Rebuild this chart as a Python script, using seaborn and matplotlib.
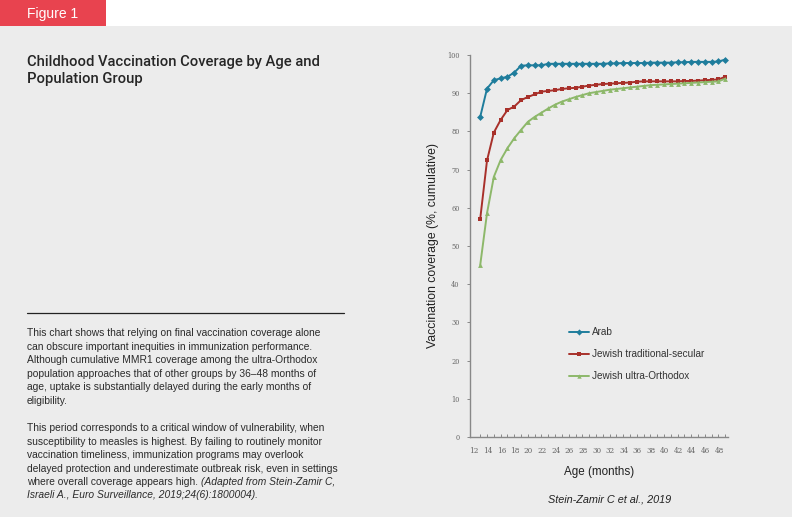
import pandas as pd
import matplotlib.pyplot as plt
import seaborn as sns
from matplotlib.lines import Line2D
from matplotlib.patches import Rectangle

# 데이터
months = list(range(12, 49))
groups = ['Arab', 'Jewish traditional-secular', 'Jewish ultra-Orthodox']

arab = [83.8, 91.2, 93.4, 93.9, 94.3, 95.4, 97.2, 97.3, 97.3, 97.3,
        97.7, 97.7, 97.7, 97.7, 97.7, 97.7, 97.7, 97.7, 97.7, 97.8,
        97.8, 97.9, 97.9, 97.9, 97.9, 98.0, 98.0, 98.0, 98.0, 98.1,
        98.1, 98.2, 98.2, 98.2, 98.2, 98.3, 98.8]
secular = [57.1, 72.4, 79.7, 83.0, 85.6, 86.5, 88.2, 89.0, 89.7, 90.4,
           90.6, 90.8, 91.1, 91.3, 91.4, 91.7, 92.0, 92.2, 92.4, 92.5,
           92.6, 92.7, 92.8, 93.0, 93.1, 93.1, 93.1, 93.1, 93.1, 93.1,
           93.2, 93.2, 93.3, 93.4, 93.5, 93.6, 94.3]
orthodox = [45.0, 58.6, 68.1, 72.5, 75.6, 78.2, 80.4, 82.5, 83.8, 84.9,
            86.0, 87.0, 87.8, 88.4, 89.0, 89.5, 90.0, 90.3, 90.6, 90.9,
            91.1, 91.3, 91.5, 91.7, 91.9, 92.1, 92.2, 92.3, 92.4, 92.5,
            92.6, 92.7, 92.8, 92.9, 93.0, 93.1, 93.8]

yticks = list(range(0, 101, 10))
xticks = list(range(12, 49, 2))

df = pd.DataFrame({
    'month': months * 3,
    'coverage': arab + secular + orthodox,
    'group': [groups[0]] * len(months) + [groups[1]] * len(months) + [groups[2]] * len(months),
})

palette = {groups[0]: '#1f7d9c', groups[1]: '#a8302a', groups[2]: '#8db86a'}
markers = {groups[0]: 'D', groups[1]: 's', groups[2]: '^'}

sns.set_style('white')
plt.rcParams['font.family'] = ['Liberation Sans', 'DejaVu Sans']

bg = '#ececec'
txt = '#2b2b2b'
fig = plt.figure(figsize=(7.92, 5.17), dpi=100)
fig.patch.set_facecolor('white')

# 회색 배경 + 상단 배지
fig.add_artist(Rectangle((0, 0), 1, 1 - 26 / 517, transform=fig.transFigure,
                         facecolor=bg, edgecolor='none', zorder=-10))
fig.add_artist(Rectangle((0, 1 - 26 / 517), 106 / 792, 26 / 517, transform=fig.transFigure,
                         facecolor='#e8434f', edgecolor='none', zorder=-9))
fig.text(27 / 792, 1 - 14 / 517, 'Figure 1', color='white', fontsize=10, va='center', ha='left')

# 제목
fig.text(27 / 792, 1 - 55 / 517, 'Childhood Vaccination Coverage by Age and\nPopulation Group',
         fontsize=10.6, color='#262626', va='top', ha='left', linespacing=1.3,
         family=['Roboto', 'Liberation Sans'], weight='medium')

# 구분선
fig.add_artist(Line2D([27 / 792, 344 / 792], [1 - 313 / 517] * 2, transform=fig.transFigure,
                      color='#222222', lw=0.9))

body_size = 7.4
body_ls = 1.45
para1 = ('This chart shows that relying on final vaccination coverage alone\n'
         'can obscure important inequities in immunization performance.\n'
         'Although cumulative MMR1 coverage among the ultra-Orthodox\n'
         'population approaches that of other groups by 36\u201348 months of\n'
         'age, uptake is substantially delayed during the early months of\n'
         'eligibility.')
fig.text(27 / 792, 1 - 328 / 517, para1, fontsize=body_size, color=txt,
         va='top', ha='left', linespacing=body_ls)

para2 = ('This period corresponds to a critical window of vulnerability, when\n'
         'susceptibility to measles is highest. By failing to routinely monitor\n'
         'vaccination timeliness, immunization programs may overlook\n'
         'delayed protection and underestimate outbreak risk, even in settings')
fig.text(27 / 792, 1 - 423 / 517, para2, fontsize=body_size, color=txt,
         va='top', ha='left', linespacing=body_ls)
last = fig.text(27 / 792, 1 - 482 / 517, 'where overall coverage appears high. ',
                fontsize=body_size, color=txt, va='center', ha='left')
fig.canvas.draw()
bb = last.get_window_extent()
fig.text(bb.x1 / 792, 1 - 482 / 517, '(Adapted from Stein-Zamir C,', fontsize=body_size,
         color=txt, style='italic', va='center', ha='left')
fig.text(27 / 792, 1 - 495.5 / 517, 'Israeli A., Euro Surveillance, 2019;24(6):1800004).',
         fontsize=body_size, color=txt, style='italic', va='center', ha='left')

# 그래프
ax = fig.add_axes([470 / 792, 1 - 437 / 517, 258 / 792, 382 / 517])
ax.set_facecolor(bg)
sns.lineplot(data=df, x='month', y='coverage', hue='group', style='group',
             palette=palette, markers=markers, dashes=False, markersize=3.5,
             markeredgewidth=0, linewidth=1.4, ax=ax)

ax.set_xlim(10.5, 48.4)
ax.set_ylim(0, 100)
ax.set_yticks(yticks)
ax.set_yticklabels([str(v) for v in yticks], family='DejaVu Serif', fontsize=4.8, color='#666666')
# 눈금 라벨은 원본처럼 약간 왼쪽에 위치
ax.set_xticks([v - 0.9 for v in xticks])
ax.set_xticklabels([str(v) for v in xticks], family='DejaVu Serif', fontsize=5.2, color='#666666')
ax.set_xticks(months, minor=True)
ax.tick_params(axis='y', which='major', direction='out', length=2.5, width=0.7,
               color='#888888', pad=5, left=True)
ax.tick_params(axis='x', which='minor', direction='in', length=2.5, width=0.7,
               color='#888888', bottom=True)
ax.tick_params(axis='x', which='major', length=0, pad=7)

for side in ['top', 'right']:
    ax.spines[side].set_visible(False)
for side in ['left', 'bottom']:
    ax.spines[side].set_color('#888888')
    ax.spines[side].set_linewidth(1.0)

ax.set_xlabel('Age (months)', fontsize=8.4, color='#222222', labelpad=8)
ax.set_ylabel('Vaccination coverage (%, cumulative)', fontsize=8.8, color='#222222', labelpad=6)

ax.legend(loc='upper left', bbox_to_anchor=(560 / 792, 1 - 318 / 517), bbox_transform=fig.transFigure,
          frameon=False, fontsize=7.2, handlelength=2.0, labelspacing=1.2, handletextpad=0.3,
          labelcolor='#333333', markerscale=0.9)

fig.text(610 / 792, 1 - 500 / 517, 'Stein-Zamir C et al., 2019', fontsize=7.8, style='italic',
         color='#222222', ha='center', va='center')

plt.savefig('out.png', dpi=100, facecolor=fig.get_facecolor())
